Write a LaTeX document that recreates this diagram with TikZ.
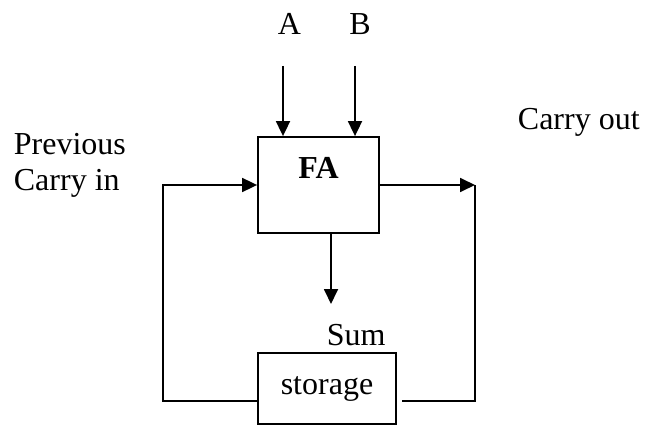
\documentclass[tikz,border=0pt]{standalone}
\usepackage{fontspec}
\setmainfont{Liberation Serif}
\usetikzlibrary{positioning, arrows.meta}

\begin{document}
\begin{tikzpicture}[x=1pt, y=-1pt, line width=1.8pt, font=\fontsize{32}{36}\selectfont,
    >={Triangle[length=15pt, width=14pt]}]
      \useasboundingbox (0,0) rectangle (655,425);

      % boxes
      \node[draw, rectangle, minimum width=121pt, minimum height=96pt] (fa) at (318.5, 185) {};
      \node[draw, rectangle, minimum width=138pt, minimum height=71pt] (st) at (327, 388.5) {storage};
      \node[below=20pt of fa.north, inner sep=0pt, font=\fontsize{32}{36}\selectfont\bfseries] (falbl) {FA};

      % free ends
      \coordinate (ain) at (283, 66);
      \coordinate (bin) at (355, 66);
      \coordinate (sumend) at (331, 304);
      \coordinate (lowrow) at (0, 401);
      \coordinate (lcorner) at (163, 401);
      \coordinate (rcorner) at (475, 401);
      \coordinate (stgap) at (402, 401);

      \draw[->] (ain) -- (ain |- fa.north);
      \draw[->] (bin) -- (bin |- fa.north);
      \draw[->] (fa.south -| sumend) -- (sumend);
      \draw[->] (st.west |- lowrow) -- (lcorner) |- (fa.west);
      \draw[->] (fa.east) -- (fa.east -| rcorner);
      \draw (fa.east -| rcorner) -- (rcorner) -- (stgap);

      % labels
      \node[inner sep=0pt] (alab) at (289.5, 24) {A};
      \node[inner sep=0pt] (blab) at (360, 24) {B};
      \node[align=left, anchor=west, inner sep=0pt] (prev) at (13, 165) {Previous\\Carry in};
      \node[anchor=base west, inner sep=0pt] (cout) at (517, 129) {Carry out};
      \node[anchor=base west, inner sep=0pt] (sum) at (326, 345) {Sum};
    \end{tikzpicture}
\end{document}
